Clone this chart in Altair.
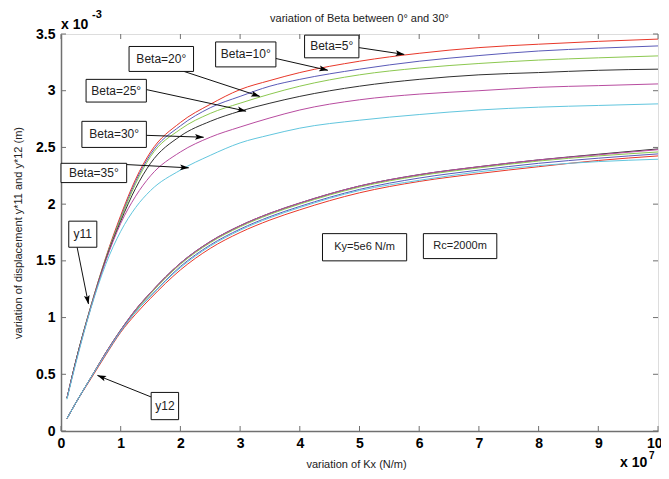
import math
import altair as alt
import pandas as pd

# ---------------- data (y in units of 1e-3 m, x in units of 1e7 N/m) ----------------
kx = [0.1, 0.25, 0.5, 0.75, 1.0, 1.25, 1.5, 2.0, 2.5, 3.0, 3.5, 4.0, 5.0, 6.0, 7.0, 8.0, 9.0, 10.0]

betas = ["Beta=5°", "Beta=10°", "Beta=20°", "Beta=25°", "Beta=30°", "Beta=35°"]
colors = ["#e8382a", "#5a5ab8", "#8cc850", "#303030", "#b84ca0", "#62c6de"]

y11_b5 = [0.29, 0.62, 1.10, 1.53, 1.90, 2.22, 2.46, 2.72, 2.88, 3.01, 3.09, 3.16, 3.26, 3.33, 3.38, 3.41, 3.435, 3.455]
y11_b10 = [0.29, 0.62, 1.10, 1.52, 1.88, 2.20, 2.44, 2.69, 2.85, 2.95, 3.04, 3.10, 3.19, 3.26, 3.31, 3.35, 3.375, 3.395]
y11_b20 = [0.29, 0.62, 1.10, 1.52, 1.87, 2.18, 2.42, 2.66, 2.80, 2.89, 2.97, 3.04, 3.14, 3.20, 3.24, 3.27, 3.29, 3.307]
y11_b25 = [0.29, 0.62, 1.09, 1.51, 1.85, 2.14, 2.36, 2.60, 2.73, 2.82, 2.89, 2.95, 3.04, 3.10, 3.14, 3.16, 3.18, 3.19]
y11_b30 = [0.29, 0.61, 1.09, 1.50, 1.83, 2.07, 2.25, 2.46, 2.59, 2.68, 2.76, 2.83, 2.92, 2.97, 3.00, 3.03, 3.045, 3.06]
y11_b35 = [0.28, 0.60, 1.08, 1.47, 1.76, 1.97, 2.12, 2.30, 2.43, 2.54, 2.61, 2.67, 2.74, 2.79, 2.83, 2.855, 2.87, 2.884]

y12_b5 = [0.11, 0.25, 0.46, 0.67, 0.87, 1.03, 1.17, 1.42, 1.61, 1.75, 1.86, 1.95, 2.10, 2.20, 2.27, 2.33, 2.385, 2.425]
y12_b10 = [0.11, 0.25, 0.47, 0.68, 0.88, 1.05, 1.19, 1.45, 1.64, 1.78, 1.89, 1.98, 2.13, 2.23, 2.30, 2.36, 2.405, 2.443]
y12_b20 = [0.11, 0.25, 0.47, 0.69, 0.89, 1.06, 1.21, 1.47, 1.66, 1.80, 1.91, 2.00, 2.15, 2.25, 2.32, 2.38, 2.425, 2.46]
y12_b25 = [0.11, 0.25, 0.47, 0.69, 0.89, 1.07, 1.22, 1.48, 1.67, 1.81, 1.92, 2.01, 2.16, 2.26, 2.33, 2.39, 2.44, 2.487]
y12_b30 = [0.11, 0.25, 0.47, 0.69, 0.89, 1.07, 1.22, 1.48, 1.67, 1.81, 1.92, 2.01, 2.16, 2.26, 2.33, 2.39, 2.435, 2.48]
y12_b35 = [0.11, 0.25, 0.47, 0.68, 0.88, 1.05, 1.19, 1.44, 1.63, 1.77, 1.88, 1.97, 2.12, 2.21, 2.285, 2.34, 2.375, 2.396]

x_ticks = [0, 1, 2, 3, 4, 5, 6, 7, 8, 9, 10]
y_ticks = [0, 0.5, 1, 1.5, 2, 2.5, 3, 3.5]

title_text = "variation of Beta between 0° and 30°"

# annotation boxes: text, box x1, x2, y1, y2 (data units), arrow start/end (data units)
box_texts = ["Beta=5°", "Beta=10°", "Beta=20°", "Beta=25°", "Beta=30°", "Beta=35°", "y11", "y12", "Ky=5e6 N/m", "Rc=2000m"]
box_x1 = [4.08, 2.59, 1.14, 0.42, 0.35, 0.0, 0.13, 1.51, 4.38, 6.07]
box_x2 = [4.99, 3.60, 2.22, 1.43, 1.43, 1.10, 0.60, 1.97, 5.79, 7.30]
box_y1 = [3.29, 3.21, 3.17, 2.90, 2.50, 2.19, 1.62, 0.10, 1.50, 1.52]
box_y2 = [3.49, 3.43, 3.39, 3.10, 2.73, 2.36, 1.85, 0.34, 1.74, 1.74]
box_fs = [12, 12, 12, 12, 12, 12, 12, 12, 11, 11]

arrow_x0 = [4.99, 3.55, 2.06, 1.43, 1.23, 1.06, 0.27, 1.51]
arrow_y0 = [3.38, 3.29, 3.17, 3.01, 2.61, 2.35, 1.62, 0.30]
arrow_x1 = [5.75, 4.47, 3.33, 3.10, 2.39, 2.14, 0.46, 0.61]
arrow_y1 = [3.32, 3.18, 2.95, 2.82, 2.59, 2.32, 1.12, 0.49]

# ---------------- build tables ----------------
W, H = 597, 397
XMAX, YMAX = 10.0, 3.5
FONT = "Liberation Sans"
ARROW = "M0,-1L0.55,0.7L0,0.35L-0.55,0.7Z"

y11 = [y11_b5, y11_b10, y11_b20, y11_b25, y11_b30, y11_b35]
y12 = [y12_b5, y12_b10, y12_b20, y12_b25, y12_b30, y12_b35]
rows = []
for grp, series in (("y11", y11), ("y12", y12)):
    for b, vals in zip(betas, series):
        for xv, yv in zip(kx, vals):
            rows.append({"kx": xv, "y": yv, "beta": b, "grp": grp, "key": grp + b})
df = pd.DataFrame(rows)

boxes = pd.DataFrame({
    "text": box_texts, "x1": box_x1, "x2": box_x2, "y1": box_y1, "y2": box_y2, "fs": box_fs,
    "tx": [(a + b) / 2 for a, b in zip(box_x1, box_x2)],
    "ty": [(a + b) / 2 for a, b in zip(box_y1, box_y2)],
})

sx, sy = W / XMAX, H / YMAX
heads = []
for x0, y0, x1, y1 in zip(arrow_x0, arrow_y0, arrow_x1, arrow_y1):
    dx = (x1 - x0) * sx
    dy = -(y1 - y0) * sy
    n = math.hypot(dx, dy)
    ux, uy = dx / n, dy / n
    ang = math.degrees(math.atan2(ux, -uy)) % 360
    heads.append({"hx": x1 - 5 * ux / sx, "hy": y1 + 5 * uy / sy, "ang": ang})
arrows = pd.DataFrame({"x0": arrow_x0, "y0": arrow_y0, "x1": arrow_x1, "y1": arrow_y1})
heads = pd.DataFrame(heads)

xs = alt.Scale(domain=[0, XMAX], nice=False, zero=False)
ys = alt.Scale(domain=[0, YMAX], nice=False, zero=False)

x_axis = alt.Axis(values=x_ticks, format="~g", title="variation of Kx (N/m)", grid=False,
                  ticks=False, labelFontSize=14, labelFontWeight="bold", labelPadding=5,
                  labelFont=FONT, labelColor="#000", domainColor="#707070", domainWidth=1.5,
                  labelAlign=alt.expr("datum.value >= 10 ? 'right' : 'center'"),
                  labelOffset=alt.expr("datum.value >= 10 ? 4 : 0"),
                  titleFont=FONT, titleFontSize=11, titleFontWeight="normal", titleColor="#222",
                  titleX=295, titleY=36, titleBaseline="alphabetic", labelFlush=False)
y_axis = alt.Axis(values=y_ticks, format="~g", title="variation of displacement y*11 and y*12 (m)",
                  grid=False, ticks=False, labelFontSize=14, labelFontWeight="bold", labelPadding=6,
                  labelFont=FONT, labelColor="#000", domainColor="#707070", domainWidth=1.5,
                  titleFont=FONT, titleFontSize=11, titleFontWeight="normal", titleColor="#222",
                  titleX=-40, titleY=H / 2, titleAngle=270, titleBaseline="alphabetic", labelFlush=False)

lines = alt.Chart(df).mark_line(strokeWidth=1, interpolate="monotone").encode(
    x=alt.X("kx:Q", scale=xs, axis=x_axis),
    y=alt.Y("y:Q", scale=ys, axis=y_axis),
    color=alt.Color("beta:N", scale=alt.Scale(domain=betas, range=colors), legend=None),
    detail="key:N",
)

ytick_df = pd.DataFrame({"v": y_ticks})
xtick_df = pd.DataFrame({"v": x_ticks})
tick_style = dict(color="#707070", strokeWidth=1)
yt_left = alt.Chart(ytick_df).mark_rule(**tick_style).encode(
    y=alt.Y("v:Q", scale=ys), x=alt.value(0), x2=alt.value(5))
yt_right = alt.Chart(ytick_df).mark_rule(**tick_style).encode(
    y=alt.Y("v:Q", scale=ys), x=alt.value(W - 5), x2=alt.value(W))
xt_bot = alt.Chart(xtick_df).mark_rule(**tick_style).encode(
    x=alt.X("v:Q", scale=xs), y=alt.value(H - 5), y2=alt.value(H))
xt_top = alt.Chart(xtick_df).mark_rule(**tick_style).encode(
    x=alt.X("v:Q", scale=xs), y=alt.value(0), y2=alt.value(5))

arrow_lines = alt.Chart(arrows).mark_rule(color="#111", strokeWidth=1).encode(
    x=alt.X("x0:Q", scale=xs), y=alt.Y("y0:Q", scale=ys),
    x2="x1:Q", y2="y1:Q")
arrow_heads = alt.Chart(heads).mark_point(shape=ARROW, filled=True, color="#000", size=110, opacity=1).encode(
    x=alt.X("hx:Q", scale=xs), y=alt.Y("hy:Q", scale=ys), angle=alt.Angle("ang:Q", scale=None))

rects = alt.Chart(boxes).mark_rect(fill="white", stroke="#111", strokeWidth=1).encode(
    x=alt.X("x1:Q", scale=xs), x2="x2:Q", y=alt.Y("y1:Q", scale=ys), y2="y2:Q")
texts = alt.Chart(boxes).mark_text(font=FONT, color="#222", align="center", baseline="middle").encode(
    x=alt.X("tx:Q", scale=xs), y=alt.Y("ty:Q", scale=ys), text="text:N",
    size=alt.Size("fs:Q", scale=None))

exp_df = pd.DataFrame({"t": ["x 10", "-3", "x 10", "7"],
                       "px": [0, 31, W - 38, W - 9], "py": [-5, -16, 433, 425],
                       "fs": [14, 11, 14, 10]})
exp_text = alt.Chart(exp_df).mark_text(font=FONT, color="#000", align="left", baseline="alphabetic",
                                       fontWeight="bold").encode(
    x=alt.X("px:Q", scale=None), y=alt.Y("py:Q", scale=None), text="t:N",
    size=alt.Size("fs:Q", scale=None))

title_mark = alt.Chart(pd.DataFrame({"t": [title_text]})).mark_text(
    font=FONT, fontSize=11, color="#222", align="center", baseline="alphabetic").encode(
    x=alt.value(W / 2), y=alt.value(-12), text="t:N")

chart = alt.layer(
    lines, yt_left, yt_right, xt_bot, xt_top, arrow_lines, arrow_heads, rects, texts, exp_text, title_mark
).properties(
    width=W, height=H,
    autosize=alt.AutoSizeParams(type="none"),
    padding={"left": 53, "top": 26, "right": 3, "bottom": 40},
).configure_view(stroke="#707070", strokeWidth=1).configure(background="white")

chart.save("out.html", embed_options={"renderer": "svg", "actions": False})
